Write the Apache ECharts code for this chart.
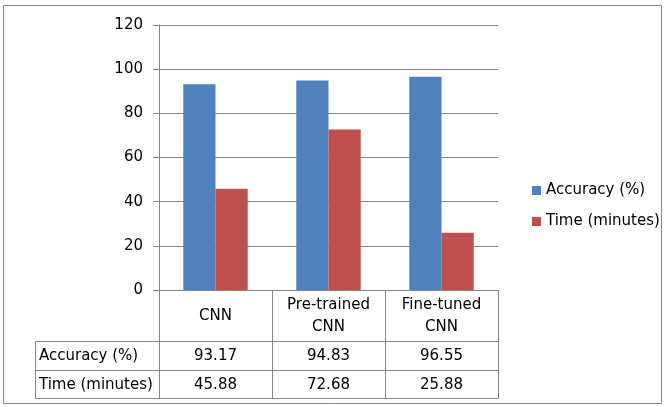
<!DOCTYPE html>
<html><head><meta charset="utf-8">
<script src="https://cdn.jsdelivr.net/npm/echarts@6/dist/echarts.min.js"></script>
<style>html,body{margin:0;padding:0;background:#fff}#c{width:665px;height:407px}</style>
</head><body><div id="c"></div>
<script>
const categories = ['CNN', 'Pre-trained\nCNN', 'Fine-tuned\nCNN'];
const seriesNames = ['Accuracy (%)', 'Time (minutes)'];
const accuracy = [93.17, 94.83, 96.55];
const timeMinutes = [45.88, 72.68, 25.88];
const yMin = 0, yMax = 120, yInterval = 20;

const FONT = 'DejaVu Sans';
const FS = 15;
const GRAY = '#868686';
const chart = echarts.init(document.getElementById('c'));
chart.setOption({
  animation: false,
  backgroundColor: '#fff',
  textStyle: { fontFamily: FONT },
  grid: { left: 159, top: 25, width: 339, height: 265 },
  legend: {
    orient: 'vertical', left: 527, top: 178,
    itemWidth: 9, itemHeight: 9, itemGap: 16,
    icon: 'rect',
    textStyle: { fontFamily: FONT, fontSize: FS, color: '#000' },
    data: seriesNames
  },
  xAxis: {
    type: 'category', data: categories,
    axisLine: { lineStyle: { color: GRAY, width: 1 } },
    axisTick: { show: true, length: 51, lineStyle: { color: GRAY } },
    axisLabel: { color: '#000', fontSize: FS, fontFamily: FONT, margin: 26, verticalAlign: 'middle', lineHeight: 22 },
    splitLine: { show: false }
  },
  yAxis: {
    type: 'value', min: yMin, max: yMax, interval: yInterval,
    axisLine: { show: true, lineStyle: { color: GRAY } },
    axisTick: { show: true, length: 6, lineStyle: { color: GRAY } },
    axisLabel: { color: '#000', fontSize: FS, fontFamily: FONT, margin: 16 },
    splitLine: { lineStyle: { color: GRAY, width: 1 } }
  },
  series: [
    { name: seriesNames[0], type: 'bar', data: accuracy, barGap: '0%', barCategoryGap: '43%', itemStyle: { color: '#4F81BD' } },
    { name: seriesNames[1], type: 'bar', data: timeMinutes, itemStyle: { color: '#C0504D' } }
  ]
});

// data table below the axis, positioned from the axis scales
const base = chart.convertToPixel({ yAxisIndex: 0 }, 0);
const centers = categories.map((_, i) => chart.convertToPixel({ xAxisIndex: 0 }, i));
const band = centers[1] - centers[0];
const bounds = [centers[0] - band / 2].concat(centers.map(c => c + band / 2));
const headerH = 51, rowH = 28.5, leftX = 35;
const r0 = base + headerH, r1 = r0 + rowH, r2 = r1 + rowH;
const px = v => Math.round(v) + 0.5;
const line = (x1, y1, x2, y2) => ({ type: 'line', silent: true, shape: { x1: px(x1), y1: px(y1), x2: px(x2), y2: px(y2) }, style: { stroke: GRAY, lineWidth: 1 } });
const text = (t, x, y, align) => ({ type: 'text', silent: true, x: x, y: y, style: { text: t, fill: '#000', font: FS + 'px "' + FONT + '"', align: align, verticalAlign: 'middle', textAlign: align, textVerticalAlign: 'middle' } });
const g = [];
g.push({ type: 'rect', silent: true, shape: { x: 3.5, y: 5.5, width: 658, height: 398 }, style: { fill: 'none', stroke: GRAY, lineWidth: 1 } });
[r0, r1, r2].forEach(y => g.push(line(leftX, y, bounds[3], y)));
bounds.forEach(x => g.push(line(x, base, x, r2)));
g.push(line(leftX, r0, leftX, r2));
const rows = [[seriesNames[0], accuracy], [seriesNames[1], timeMinutes]];
rows.forEach((row, ri) => {
  const cy = r0 + rowH * ri + rowH / 2 + 1;
  g.push(text(row[0], leftX + 4, cy, 'left'));
  row[1].forEach((v, i) => g.push(text(v.toFixed(2), centers[i], cy, 'center')));
});
chart.setOption({ graphic: g });
</script></body></html>
